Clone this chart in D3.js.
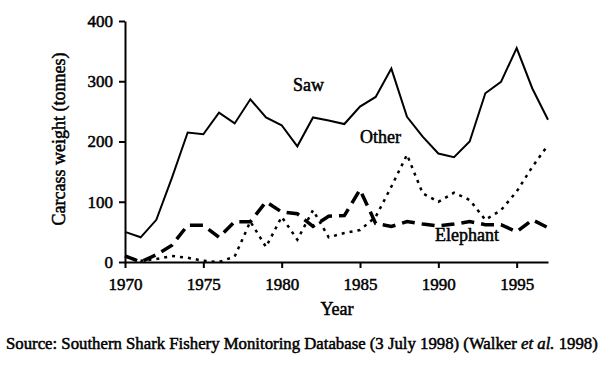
<!DOCTYPE html>
<html><head><meta charset="utf-8">
<script src="https://cdn.jsdelivr.net/npm/d3@7"></script>
<style>body{margin:0;background:#fff}svg{display:block}</style>
</head><body><svg id="c" width="600" height="366"></svg>
<script>
const years = d3.range(1970, 1998);
const saw = [50,41,70,140,215,212,248,230,270,240,227,192,240,235,229,258,274,321,241,208,180,174,200,280,299,355,288,236];
const elephant = [10,0,12,28,61,61,41,67,67,100,83,80,59,76,77,120,64,59,67,63,60,63,67,62,62,50,70,57];
const other = [9,2,5,10,7,2,0,9,67,25,75,37,86,41,48,53,75,125,178,114,100,115,103,70,86,117,158,194];
const xTicks = [1970,1975,1980,1985,1990,1995];
const yTicks = [0,100,200,300,400];
const seriesLabels = ["Saw","Other","Elephant"];

const FONT = "Liberation Serif";
const svg = d3.select("#c");
const x = d3.scaleLinear().domain([1970,1997]).range([125,548]);
const y = d3.scaleLinear().domain([0,400]).range([262,21]);

function heavy(sel, size){
  return sel.style("font-family",FONT).style("font-size",size+"px").style("font-weight","normal")
    .attr("fill","#000").attr("stroke","#000").attr("stroke-width",0.5);
}

const xAxis = svg.append("g").attr("transform","translate(0,262)")
  .call(d3.axisBottom(x).tickValues(xTicks).tickFormat(d3.format("d")).tickSize(6).tickSizeOuter(0).tickPadding(10));
const yAxis = svg.append("g").attr("transform","translate(125,0)")
  .call(d3.axisLeft(y).tickValues(yTicks).tickSize(6).tickSizeOuter(0).tickPadding(6));
[xAxis,yAxis].forEach(a=>{
  a.attr("font-family", null).attr("font-size", null);
  a.select(".domain").attr("stroke","#000").attr("stroke-width",2);
  a.selectAll(".tick line").attr("stroke","#000").attr("stroke-width",2);
  heavy(a.selectAll(".tick text"), 17);
});

const line = d3.line().x((d,i)=>x(years[i])).y(d=>y(d));
svg.append("path").datum(saw).attr("d",line).attr("fill","none").attr("stroke","#000").attr("stroke-width",2);
svg.append("path").datum(elephant).attr("d",line).attr("fill","none").attr("stroke","#000").attr("stroke-width",3.5).attr("stroke-dasharray","13,7");
svg.append("path").datum(other).attr("d",line).attr("fill","none").attr("stroke","#000").attr("stroke-width",2.5).attr("stroke-dasharray","3,5");

function txt(xp, yp, s, size){
  return heavy(svg.append("text").attr("x",xp).attr("y",yp), size||18).text(s);
}
txt(293,91,seriesLabels[0]);
txt(360,143,seriesLabels[1]);
txt(435,241,seriesLabels[2]);
txt(337,315,"Year").attr("text-anchor","middle");
heavy(svg.append("text").attr("transform","translate(65,139) rotate(-90)").attr("text-anchor","middle"),18)
  .text("Carcass weight (tonnes)");

const src = heavy(svg.append("text").attr("x",6).attr("y",349), 16);
src.append("tspan").text("Source: Southern Shark Fishery Monitoring Database (3 July 1998) (Walker ");
src.append("tspan").style("font-style","italic").text("et al.");
src.append("tspan").text(" 1998)");
const w = src.node().getComputedTextLength();
if (w > 0) src.style("font-size", (16*592/w).toFixed(2)+"px");
</script></body></html>
